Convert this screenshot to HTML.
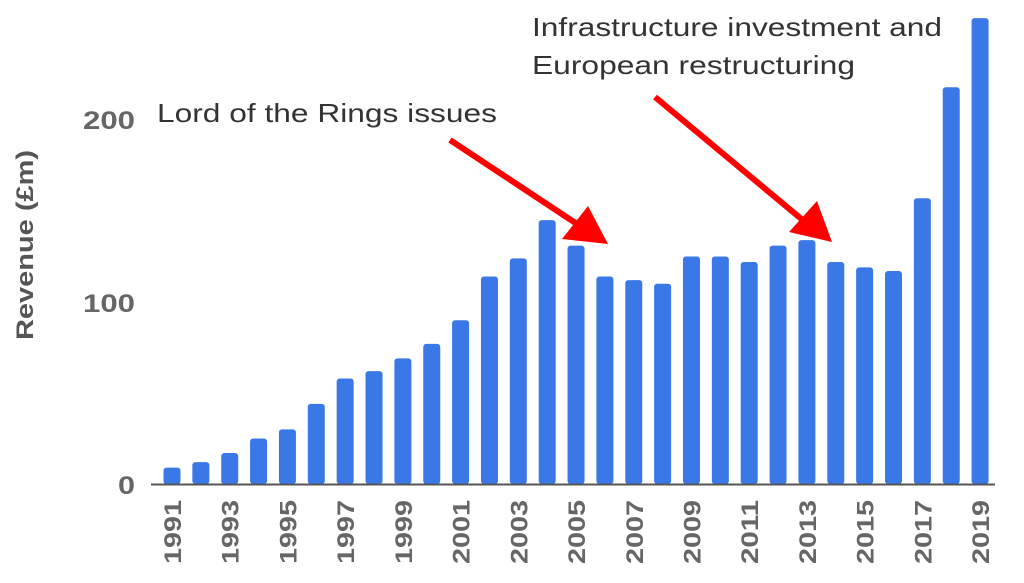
<!DOCTYPE html>
<html><head><meta charset="utf-8"><style>
html,body{margin:0;padding:0;background:#fff;}
svg{display:block;}
</style></head><body>
<svg width="1024" height="583" viewBox="0 0 1024 583" xmlns="http://www.w3.org/2000/svg">
<g font-family="Liberation Sans, sans-serif">
<text x="33" y="245" transform="rotate(-90 33 245)" text-anchor="middle" font-size="24" font-weight="bold" fill="#555" textLength="190" lengthAdjust="spacingAndGlyphs">Revenue (£m)</text>
<g font-size="25" font-weight="bold" fill="#666">
<text x="83" y="129" textLength="52" lengthAdjust="spacingAndGlyphs">200</text>
<text x="83" y="312" textLength="52" lengthAdjust="spacingAndGlyphs">100</text>
<text x="118" y="494" textLength="17" lengthAdjust="spacingAndGlyphs">0</text>
</g>
<g id="bars" fill="#3b78e7"></g>
<line x1="151" y1="484.5" x2="995" y2="484.5" stroke="#555" stroke-width="2"/>
<g id="labels" font-size="24" font-weight="bold" fill="#666"></g>
<text x="157" y="122" font-size="26" fill="#333" textLength="340" lengthAdjust="spacingAndGlyphs">Lord of the Rings issues</text>
<text x="532" y="36" font-size="26" fill="#333" textLength="410" lengthAdjust="spacingAndGlyphs">Infrastructure investment and</text>
<text x="532" y="74" font-size="26" fill="#333" textLength="323" lengthAdjust="spacingAndGlyphs">European restructuring</text>
<g stroke="#f00" stroke-width="6" fill="#f00">
<line x1="450" y1="140" x2="580" y2="226"/>
<line x1="655" y1="97" x2="805" y2="222"/>
</g>
<polygon points="608,244 562,239 588,206" fill="#f00"/>
<polygon points="832,242 789,232 817,201" fill="#f00"/>
</g>
</svg>
<script>
const vals=[9,12,17,25,30,44,58,62,69,77,90,114,124,145,131,114,112,110,125,125,122,131,134,122,119,117,157,218,256];
const ns="http://www.w3.org/2000/svg";
const b=document.getElementById('bars'),l=document.getElementById('labels');
vals.forEach((v,i)=>{
 const cx=172+i*28.86, h=v*1.82;
 const r=document.createElementNS(ns,'rect');
 r.setAttribute('x',cx-8.5);r.setAttribute('y',484-h);r.setAttribute('width',17);r.setAttribute('height',h);r.setAttribute('rx',3);
 b.appendChild(r);
 if(i%2==0){
  const t=document.createElementNS(ns,'text');
  const x=cx+9,y=500;
  t.setAttribute('x',x);t.setAttribute('y',y);t.setAttribute('text-anchor','end');
  t.setAttribute('textLength','64');t.setAttribute('lengthAdjust','spacingAndGlyphs');
  t.setAttribute('transform','rotate(-90 '+x+' '+y+')');
  t.textContent=1991+i;l.appendChild(t);
 }
});
</script>
</body></html>
